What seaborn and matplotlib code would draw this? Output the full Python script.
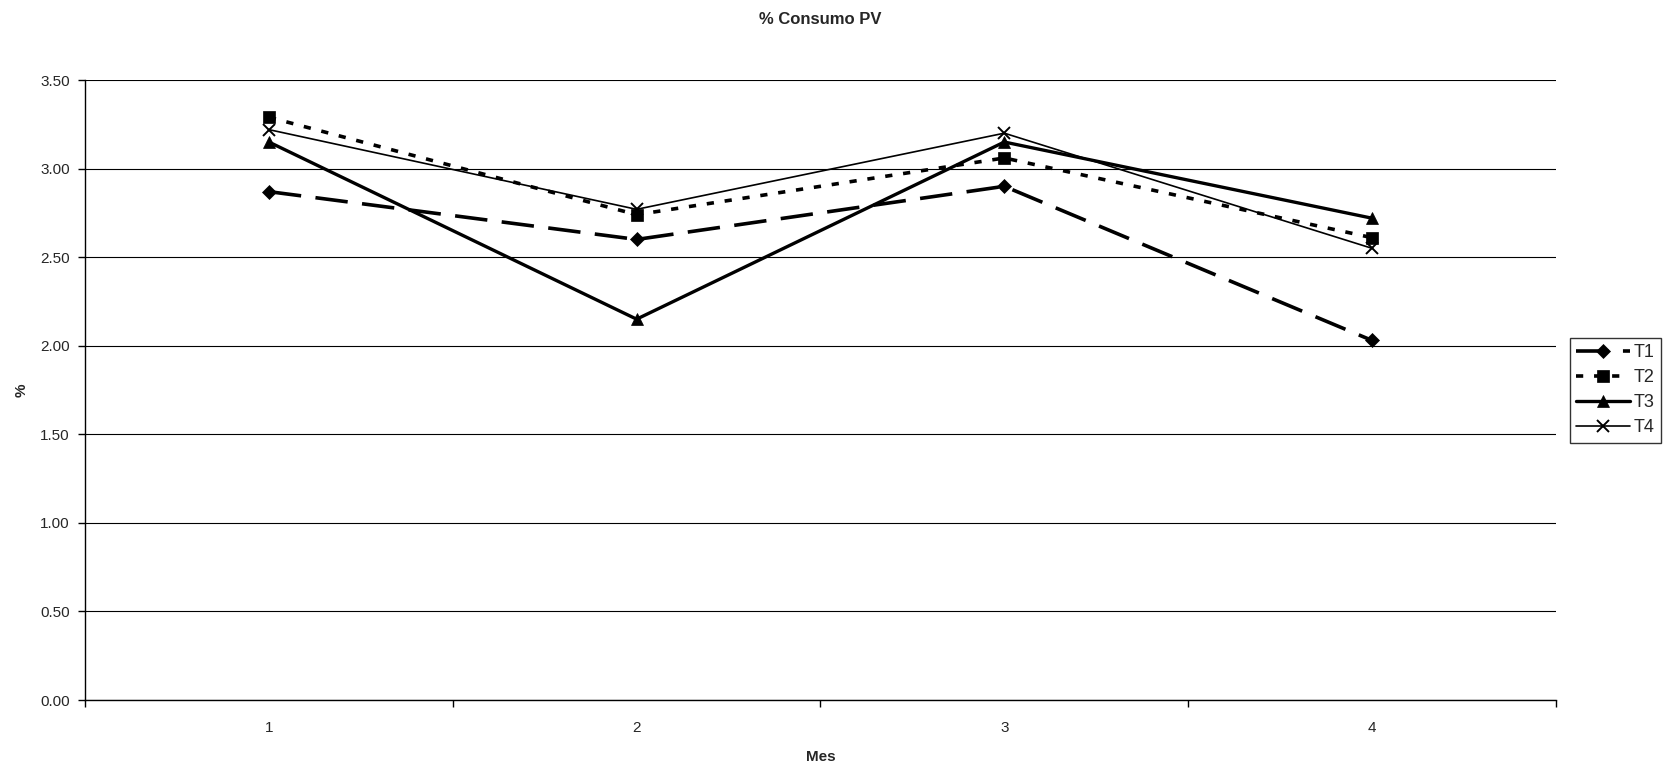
import numpy as np
import pandas as pd
import seaborn as sns
import matplotlib.pyplot as plt
from matplotlib.ticker import FixedLocator, NullFormatter

meses = [1, 2, 3, 4]
t1 = [2.87, 2.60, 2.90, 2.03]
t2 = [3.29, 2.74, 3.06, 2.61]
t3 = [3.15, 2.15, 3.15, 2.72]
t4 = [3.22, 2.77, 3.20, 2.55]

data = pd.DataFrame({'Mes': meses * 4,
                     'valor': t1 + t2 + t3 + t4,
                     'serie': ['T1'] * 4 + ['T2'] * 4 + ['T3'] * 4 + ['T4'] * 4})

sns.set_style('white')
plt.rcParams['font.family'] = ['Liberation Sans', 'DejaVu Sans']

fig = plt.figure(figsize=(16.71, 7.68), dpi=100)
ax = fig.add_axes([0.0509, 0.0885, 0.8802, 0.8073])

estilos = {
    'T1': dict(marker='D', markersize=7, linewidth=2.6, dashes=(9, 4)),
    'T2': dict(marker='s', markersize=8, linewidth=2.6, dashes=(2, 3)),
    'T3': dict(marker='^', markersize=9, linewidth=2.4, linestyle='-'),
    'T4': dict(marker='x', markersize=8, linewidth=1.2, linestyle='-'),
}
for nombre, st in estilos.items():
    sns.lineplot(data=data[data.serie == nombre], x='Mes', y='valor', ax=ax,
                 color='black', label=nombre, **st)

for line in ax.lines:
    line.set_markeredgecolor('black')
    line.set_markerfacecolor('black')
    line.set_markeredgewidth(1.4 if line.get_marker() == 'x' else 0.5)

ax.set_xlim(0.5, 4.5)
ax.set_ylim(0, 3.5)
ax.set_yticks(np.arange(0, 3.51, 0.5))
ax.set_yticklabels([f'{v:.2f}' for v in np.arange(0, 3.51, 0.5)], fontsize=11)
ax.xaxis.set_major_locator(FixedLocator([0.5, 1.5, 2.5, 3.5, 4.5]))
ax.xaxis.set_major_formatter(NullFormatter())
ax.xaxis.set_minor_locator(FixedLocator(meses))
ax.set_xticklabels([str(m) for m in meses], minor=True, fontsize=11)
ax.tick_params(axis='x', which='minor', length=0, pad=15, bottom=True)
ax.tick_params(axis='both', which='major', length=5, width=1, color='black',
               direction='out', bottom=True, left=True)
ax.tick_params(axis='y', pad=6)
ax.grid(axis='y', color='black', linewidth=0.8)
ax.set_axisbelow(True)
for s in ['top', 'right']:
    ax.spines[s].set_visible(False)
for s in ['left', 'bottom']:
    ax.spines[s].set_color('black')
    ax.spines[s].set_linewidth(1)

ax.set_xlabel('Mes', fontsize=11, fontweight='bold', labelpad=11)
ax.set_ylabel('%', fontsize=11, fontweight='bold', labelpad=8)
ax.set_title('% Consumo PV', fontsize=12, fontweight='bold', pad=40)

leg = ax.legend(loc='center left', bbox_to_anchor=(1.0095, 0.5), frameon=True,
                fancybox=False, edgecolor='black', fontsize=13, handlelength=3.0,
                handletextpad=0.2, borderpad=0.35, labelspacing=0.45, borderaxespad=0)
leg.get_frame().set_linewidth(1)

fig.savefig('out.png', dpi=100)
